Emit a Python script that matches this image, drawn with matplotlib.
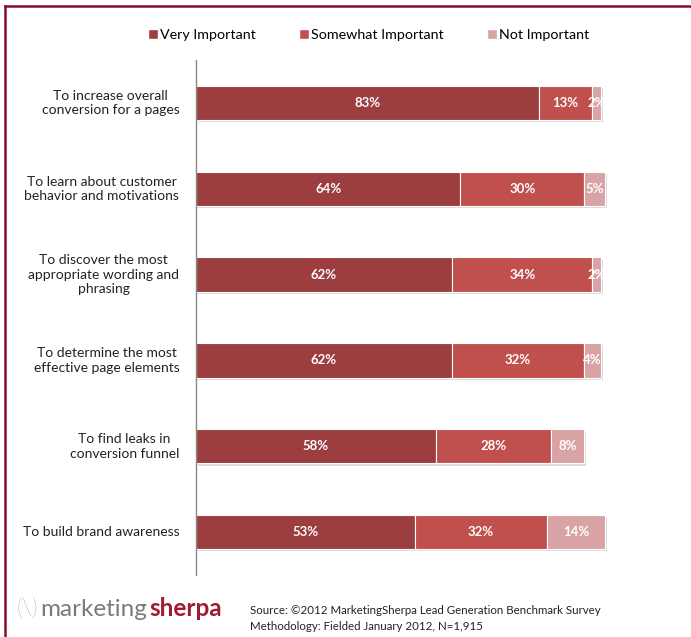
import matplotlib.pyplot as plt
import matplotlib.patheffects as pe
from matplotlib.lines import Line2D

categories = [
    "To increase overall\nconversion for a pages",
    "To learn about customer\nbehavior and motivations",
    "To discover the most\nappropriate wording and\nphrasing",
    "To determine the most\neffective page elements",
    "To find leaks in\nconversion funnel",
    "To build brand awareness",
]
very = [83, 64, 62, 62, 58, 53]
somewhat = [13, 30, 34, 32, 28, 32]
not_imp = [2, 5, 2, 4, 8, 14]

series_names = ["Very Important", "Somewhat Important", "Not Important"]
colors = ["#9C3D40", "#C0504D", "#D9A3A5"]

FONT = "Lato"

fig = plt.figure(figsize=(6.91, 6.37), dpi=100)
W, H = 691, 637
ax = fig.add_axes([196 / W, 1 - 575 / H, 413 / W, 515 / H])

ypos = list(range(len(categories)))
shadow = pe.SimplePatchShadow(offset=(1.5, -1.5), shadow_rgbFace="#999999", alpha=0.35)
left = [0] * len(categories)
for vals, col in zip([very, somewhat, not_imp], colors):
    bars = ax.barh(ypos, vals, left=left, height=0.4, color=col, edgecolor="white",
                   linewidth=0.8, zorder=2)
    for b in bars:
        b.set_path_effects([shadow, pe.Normal()])
    for y, l, v in zip(ypos, left, vals):
        ax.text(l + v / 2, y, "%d%%" % v, ha="center", va="center", color="white",
                fontsize=9.5, fontweight="bold", family=FONT, zorder=3)
    left = [a + b for a, b in zip(left, vals)]

ax.set_xlim(0, 100)
ax.set_ylim(len(categories) - 0.5, -0.5)
ax.set_xticks([])
ax.set_yticks([])
for s in ["top", "right", "bottom"]:
    ax.spines[s].set_visible(False)
ax.spines["left"].set_color("#888888")
ax.spines["left"].set_linewidth(1.0)

for y, cat in zip(ypos, categories):
    ax.annotate(cat, xy=(0, y), xytext=(-12, 0), textcoords="offset points",
                ha="right", va="center", multialignment="center",
                fontsize=10, family=FONT, color="#222222", linespacing=1.25)

handles = [Line2D([0], [0], marker="s", color="none", markerfacecolor=c,
                  markeredgecolor="white", markersize=6.5) for c in colors]
fig.legend(handles, series_names, loc="center", bbox_to_anchor=(0.532, 1 - 35 / H),
           ncol=3, frameon=False, prop={"family": FONT, "size": 10.3},
           handletextpad=0.05, columnspacing=2.9, handlelength=0.9)

# frame lines
fig.add_artist(Line2D([5 / W, 1], [1 - 6 / H, 1 - 6 / H], color="#8B0A32", lw=1.8,
                      transform=fig.transFigure))
fig.add_artist(Line2D([5 / W, 5 / W], [0, 1 - 6 / H], color="#8B0A32", lw=1.8,
                      transform=fig.transFigure))

# logo
fig.text(16 / W, 1 - 609 / H, "(\\)", fontsize=17, color="#777777", family=FONT,
         fontweight="light", va="center", ha="left")
fig.text(40 / W, 1 - 609 / H, "marketing", fontsize=17.5, color="#7A7A7A", family=FONT,
         va="center", ha="left")
fig.text(149 / W, 1 - 609 / H, "sherpa", fontsize=17.5, color="#9E1B32", family=FONT,
         fontweight="bold", va="center", ha="left")

fig.text(250 / W, 1 - 610 / H, "Source: \u00a92012 MarketingSherpa Lead Generation Benchmark Survey",
         fontsize=8.3, color="#222222", family=FONT, va="center", ha="left")
fig.text(250 / W, 1 - 627 / H, "Methodology: Fielded January 2012, N=1,915",
         fontsize=8.3, color="#222222", family=FONT, va="center", ha="left")

fig.savefig("out.png", dpi=100, facecolor="white")
